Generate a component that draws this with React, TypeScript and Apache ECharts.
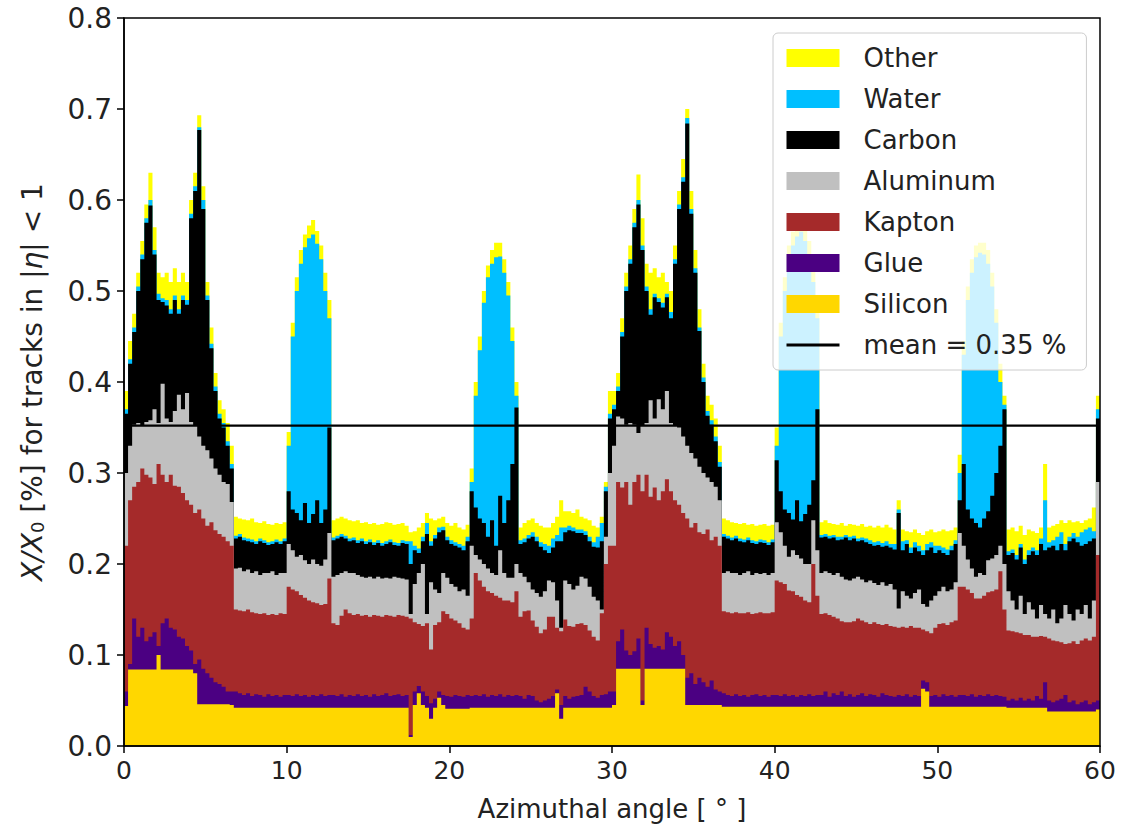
import React, { useEffect, useRef } from "react";
import * as echarts from "echarts";

// Histogram bins: 0.25 degree wide, from 0 to 60 degrees (240 bins).
// Each array holds the cumulative top of a material layer (stacked from the bottom).
const BIN_WIDTH = 0.25;
const X_MIN = 0;
const X_MAX = 60;
const X_TICK = 10;
const Y_MIN = 0;
const Y_MAX = 0.8;
const Y_TICK = 0.1;
const MEAN_VALUE = 0.352;
const MEAN_LABEL = "mean = 0.35 %";

const OTHER_TOP = [
  0.39, 0.445, 0.475, 0.52, 0.555, 0.595, 0.63, 0.57, 0.52, 0.515,
  0.52, 0.51, 0.525, 0.51, 0.52, 0.51, 0.6, 0.63, 0.693, 0.615,
  0.51, 0.46, 0.41, 0.38, 0.37, 0.355, 0.33, 0.252, 0.25, 0.249,
  0.248, 0.25, 0.246, 0.245, 0.247, 0.244, 0.243, 0.245, 0.244, 0.246,
  0.345, 0.465, 0.515, 0.545, 0.562, 0.572, 0.578, 0.566, 0.55, 0.52,
  0.49, 0.248, 0.25, 0.252, 0.25, 0.248, 0.247, 0.248, 0.245, 0.246,
  0.244, 0.245, 0.243, 0.244, 0.246, 0.245, 0.243, 0.244, 0.245, 0.242,
  0.235, 0.236, 0.24, 0.245, 0.256, 0.25, 0.248, 0.25, 0.252, 0.245,
  0.242, 0.245, 0.24, 0.238, 0.243, 0.305, 0.4, 0.45, 0.5, 0.528,
  0.545, 0.553, 0.553, 0.535, 0.51, 0.46, 0.4, 0.24, 0.245, 0.248,
  0.25, 0.245, 0.242, 0.24, 0.24, 0.245, 0.252, 0.27, 0.258, 0.258,
  0.256, 0.26, 0.252, 0.25, 0.248, 0.242, 0.24, 0.252, 0.29, 0.39,
  0.39, 0.41, 0.47, 0.52, 0.55, 0.59, 0.628, 0.58, 0.53, 0.52,
  0.525, 0.515, 0.52, 0.51, 0.5, 0.55, 0.61, 0.645, 0.7, 0.61,
  0.545, 0.48, 0.42, 0.385, 0.375, 0.36, 0.33, 0.25, 0.248, 0.246,
  0.245, 0.244, 0.245, 0.243, 0.244, 0.242, 0.243, 0.244, 0.242, 0.243,
  0.35, 0.465, 0.515, 0.55, 0.565, 0.575, 0.58, 0.57, 0.555, 0.525,
  0.485, 0.246, 0.248, 0.245, 0.244, 0.243, 0.245, 0.242, 0.244, 0.243,
  0.242, 0.244, 0.241, 0.242, 0.24, 0.242, 0.24, 0.243, 0.24, 0.238,
  0.27, 0.238, 0.236, 0.235, 0.238, 0.234, 0.232, 0.236, 0.238, 0.235,
  0.236, 0.238, 0.236, 0.237, 0.24, 0.32, 0.445, 0.505, 0.535, 0.55,
  0.553, 0.553, 0.545, 0.52, 0.48, 0.42, 0.385, 0.238, 0.24, 0.236,
  0.242, 0.232, 0.238, 0.236, 0.234, 0.24, 0.31, 0.24, 0.242, 0.244,
  0.248, 0.245, 0.248, 0.246, 0.247, 0.245, 0.248, 0.25, 0.262, 0.385,
];

const WATER_TOP = [
  0.37, 0.425, 0.46, 0.505, 0.54, 0.58, 0.6, 0.545, 0.497, 0.492,
  0.49, 0.48, 0.495, 0.48, 0.495, 0.49, 0.585, 0.615, 0.68, 0.6,
  0.495, 0.442, 0.395, 0.365, 0.355, 0.335, 0.31, 0.231, 0.233, 0.229,
  0.228, 0.227, 0.225, 0.228, 0.226, 0.224, 0.225, 0.227, 0.225, 0.228,
  0.33, 0.45, 0.5, 0.53, 0.548, 0.558, 0.562, 0.552, 0.535, 0.5,
  0.47, 0.229, 0.231, 0.233, 0.231, 0.228, 0.229, 0.226, 0.228, 0.225,
  0.227, 0.224, 0.226, 0.223, 0.225, 0.227, 0.224, 0.223, 0.226, 0.225,
  0.225, 0.22, 0.217, 0.23, 0.245, 0.225, 0.232, 0.24, 0.241, 0.23,
  0.226, 0.224, 0.222, 0.22, 0.23, 0.29, 0.385, 0.435, 0.487, 0.515,
  0.53, 0.537, 0.538, 0.52, 0.495, 0.445, 0.385, 0.226, 0.228, 0.232,
  0.235, 0.23, 0.224, 0.222, 0.22, 0.228, 0.232, 0.24, 0.24, 0.242,
  0.24, 0.238, 0.238, 0.236, 0.23, 0.224, 0.23, 0.245, 0.285, 0.365,
  0.375, 0.395, 0.455, 0.505, 0.535, 0.575, 0.6, 0.55, 0.505, 0.48,
  0.497, 0.492, 0.487, 0.497, 0.477, 0.535, 0.595, 0.625, 0.69, 0.59,
  0.525, 0.46, 0.405, 0.368, 0.358, 0.34, 0.312, 0.233, 0.231, 0.229,
  0.231, 0.228, 0.227, 0.229, 0.226, 0.225, 0.227, 0.226, 0.224, 0.227,
  0.33, 0.45, 0.5, 0.535, 0.55, 0.56, 0.565, 0.555, 0.54, 0.51,
  0.47, 0.232, 0.233, 0.231, 0.232, 0.23, 0.23, 0.232, 0.23, 0.231,
  0.228, 0.229, 0.228, 0.226, 0.224, 0.225, 0.223, 0.225, 0.222, 0.222,
  0.26, 0.225, 0.226, 0.218, 0.224, 0.22, 0.215, 0.222, 0.224, 0.22,
  0.22, 0.218, 0.216, 0.22, 0.226, 0.3, 0.43, 0.49, 0.52, 0.537,
  0.542, 0.54, 0.53, 0.505, 0.465, 0.4, 0.375, 0.214, 0.216, 0.21,
  0.222, 0.205, 0.215, 0.218, 0.215, 0.228, 0.27, 0.224, 0.226, 0.23,
  0.235, 0.222, 0.23, 0.234, 0.23, 0.235, 0.238, 0.24, 0.236, 0.37,
];

const CARBON_TOP = [
  0.365, 0.42, 0.455, 0.5, 0.535, 0.575, 0.594, 0.54, 0.49, 0.488,
  0.484, 0.475, 0.49, 0.475, 0.49, 0.485, 0.58, 0.61, 0.677, 0.59,
  0.49, 0.437, 0.39, 0.36, 0.35, 0.33, 0.305, 0.228, 0.23, 0.226,
  0.225, 0.224, 0.222, 0.225, 0.223, 0.221, 0.222, 0.224, 0.222, 0.225,
  0.28, 0.26, 0.256, 0.248, 0.267, 0.245, 0.255, 0.27, 0.245, 0.26,
  0.35, 0.226, 0.228, 0.23, 0.228, 0.225, 0.226, 0.223, 0.225, 0.222,
  0.224, 0.221, 0.223, 0.22, 0.222, 0.224, 0.221, 0.22, 0.223, 0.222,
  0.2, 0.215, 0.212, 0.225, 0.233, 0.22, 0.228, 0.235, 0.237, 0.226,
  0.222, 0.22, 0.218, 0.215, 0.225, 0.28, 0.262, 0.25, 0.245, 0.23,
  0.248, 0.22, 0.275, 0.245, 0.27, 0.31, 0.372, 0.222, 0.224, 0.228,
  0.23, 0.225, 0.219, 0.215, 0.212, 0.218, 0.225, 0.225, 0.235, 0.237,
  0.236, 0.234, 0.234, 0.232, 0.225, 0.219, 0.218, 0.225, 0.28, 0.36,
  0.37, 0.39, 0.45, 0.5, 0.53, 0.57, 0.595, 0.545, 0.5, 0.474,
  0.493, 0.488, 0.482, 0.493, 0.47, 0.53, 0.59, 0.62, 0.684, 0.585,
  0.52, 0.456, 0.4, 0.363, 0.353, 0.335, 0.307, 0.23, 0.228, 0.226,
  0.228, 0.225, 0.224, 0.226, 0.223, 0.222, 0.224, 0.223, 0.221, 0.224,
  0.314, 0.28, 0.26, 0.256, 0.249, 0.27, 0.247, 0.255, 0.265, 0.292,
  0.37, 0.229, 0.23, 0.228, 0.229, 0.226, 0.227, 0.229, 0.226, 0.228,
  0.225, 0.226, 0.224, 0.222, 0.22, 0.221, 0.219, 0.22, 0.218, 0.216,
  0.256, 0.215, 0.222, 0.212, 0.218, 0.214, 0.21, 0.215, 0.218, 0.212,
  0.215, 0.212, 0.21, 0.215, 0.222, 0.27, 0.31, 0.26, 0.25, 0.245,
  0.24, 0.25, 0.258, 0.275, 0.3, 0.33, 0.37, 0.21, 0.212, 0.205,
  0.218, 0.2, 0.21, 0.214, 0.21, 0.222, 0.215, 0.218, 0.22, 0.215,
  0.222, 0.215, 0.225, 0.228, 0.224, 0.22, 0.222, 0.225, 0.228, 0.36,
];

const ALUMINUM_TOP = [
  0.3, 0.33, 0.353, 0.355, 0.352, 0.356, 0.358, 0.37, 0.355, 0.398,
  0.36, 0.356, 0.368, 0.386, 0.37, 0.388, 0.356, 0.352, 0.34, 0.33,
  0.325, 0.316, 0.305, 0.298, 0.29, 0.288, 0.268, 0.195, 0.196, 0.192,
  0.194, 0.19, 0.192, 0.188, 0.19, 0.19, 0.192, 0.188, 0.19, 0.19,
  0.222, 0.215, 0.208, 0.21, 0.204, 0.2, 0.205, 0.2, 0.198, 0.205,
  0.234, 0.186, 0.188, 0.19, 0.192, 0.19, 0.19, 0.188, 0.186, 0.185,
  0.186, 0.184, 0.186, 0.184, 0.185, 0.184, 0.186, 0.185, 0.184, 0.183,
  0.145, 0.178, 0.19, 0.2, 0.145, 0.18, 0.172, 0.168, 0.19, 0.185,
  0.178, 0.175, 0.17, 0.172, 0.165, 0.22, 0.21, 0.205, 0.2, 0.195,
  0.19, 0.188, 0.215, 0.19, 0.185, 0.185, 0.2, 0.19, 0.186, 0.18,
  0.172, 0.168, 0.164, 0.17, 0.182, 0.18, 0.16, 0.13, 0.182, 0.178,
  0.172, 0.176, 0.186, 0.184, 0.175, 0.164, 0.16, 0.15, 0.23, 0.3,
  0.33, 0.362, 0.36, 0.353, 0.355, 0.353, 0.344, 0.352, 0.355, 0.38,
  0.36, 0.381, 0.37, 0.39, 0.355, 0.352, 0.35, 0.34, 0.33, 0.322,
  0.316, 0.307, 0.3, 0.295, 0.29, 0.285, 0.27, 0.19, 0.192, 0.19,
  0.19, 0.188, 0.19, 0.192, 0.188, 0.19, 0.189, 0.19, 0.188, 0.19,
  0.246, 0.235, 0.22, 0.208, 0.215, 0.21, 0.206, 0.2, 0.2, 0.248,
  0.215, 0.19, 0.192, 0.19, 0.188, 0.19, 0.186, 0.183, 0.182, 0.184,
  0.186, 0.183, 0.18, 0.182, 0.179, 0.177, 0.18, 0.176, 0.178, 0.172,
  0.151, 0.17, 0.165, 0.162, 0.168, 0.172, 0.156, 0.153, 0.16, 0.165,
  0.17, 0.175, 0.17, 0.172, 0.18, 0.234, 0.22, 0.205, 0.195, 0.186,
  0.19, 0.188, 0.204, 0.206, 0.21, 0.22, 0.2, 0.17, 0.16, 0.15,
  0.165, 0.145, 0.158, 0.15, 0.14, 0.155, 0.145, 0.14, 0.15, 0.135,
  0.14, 0.155, 0.145, 0.138, 0.15, 0.145, 0.155, 0.14, 0.16, 0.29,
];

const KAPTON_TOP = [
  0.22, 0.27, 0.285, 0.29, 0.305, 0.298, 0.295, 0.288, 0.31, 0.298,
  0.29, 0.298, 0.286, 0.285, 0.278, 0.27, 0.265, 0.256, 0.26, 0.25,
  0.242, 0.246, 0.237, 0.233, 0.23, 0.225, 0.22, 0.15, 0.149, 0.148,
  0.15, 0.147, 0.146, 0.145, 0.146, 0.144, 0.145, 0.144, 0.146, 0.145,
  0.175, 0.172, 0.17, 0.166, 0.163, 0.16, 0.158, 0.157, 0.155, 0.156,
  0.184, 0.135, 0.133, 0.143, 0.15, 0.146, 0.144, 0.145, 0.143, 0.144,
  0.142, 0.144, 0.143, 0.142, 0.144, 0.143, 0.142, 0.144, 0.143, 0.142,
  0.14, 0.136, 0.134, 0.132, 0.135, 0.106, 0.133, 0.136, 0.148, 0.145,
  0.14, 0.138, 0.135, 0.13, 0.128, 0.14, 0.19, 0.182, 0.175, 0.17,
  0.168, 0.165, 0.163, 0.16, 0.16, 0.158, 0.17, 0.142, 0.148, 0.149,
  0.138, 0.131, 0.124, 0.128, 0.142, 0.142, 0.13, 0.126, 0.139, 0.132,
  0.131, 0.134, 0.135, 0.133, 0.127, 0.12, 0.116, 0.146, 0.2, 0.22,
  0.22, 0.29, 0.284, 0.29, 0.265, 0.29, 0.298, 0.28, 0.298, 0.274,
  0.284, 0.27, 0.28, 0.293, 0.28, 0.27, 0.265, 0.256, 0.25, 0.24,
  0.245, 0.235, 0.233, 0.238, 0.226, 0.23, 0.22, 0.148, 0.147, 0.146,
  0.147, 0.146, 0.146, 0.147, 0.145, 0.146, 0.147, 0.146, 0.146, 0.147,
  0.182, 0.18, 0.178, 0.171, 0.17, 0.166, 0.164, 0.16, 0.158, 0.2,
  0.165, 0.145, 0.146, 0.144, 0.142, 0.14, 0.137, 0.136, 0.136, 0.137,
  0.14, 0.138, 0.136, 0.134, 0.136, 0.134, 0.133, 0.134, 0.132, 0.131,
  0.13, 0.131, 0.13, 0.132, 0.13, 0.13, 0.128, 0.126, 0.124, 0.13,
  0.134, 0.135, 0.133, 0.136, 0.138, 0.175, 0.175, 0.172, 0.168, 0.162,
  0.162, 0.165, 0.169, 0.17, 0.172, 0.192, 0.15, 0.127, 0.126, 0.125,
  0.124, 0.122, 0.122, 0.12, 0.12, 0.121, 0.12, 0.118, 0.116, 0.115,
  0.114, 0.112, 0.113, 0.115, 0.112, 0.116, 0.118, 0.116, 0.12, 0.21,
];

const GLUE_TOP = [
  0.06, 0.09, 0.14, 0.12, 0.13, 0.115, 0.12, 0.125, 0.11, 0.135,
  0.14, 0.13, 0.128, 0.12, 0.118, 0.11, 0.105, 0.09, 0.095, 0.085,
  0.08, 0.075, 0.07, 0.068, 0.065, 0.06, 0.06, 0.06, 0.058, 0.056,
  0.058, 0.055, 0.057, 0.056, 0.054, 0.057, 0.055, 0.056, 0.054, 0.056,
  0.056, 0.055, 0.057, 0.055, 0.056, 0.054, 0.056, 0.055, 0.057, 0.055,
  0.056, 0.056, 0.055, 0.057, 0.054, 0.056, 0.055, 0.057, 0.055, 0.056,
  0.054, 0.057, 0.055, 0.056, 0.058, 0.055, 0.056, 0.057, 0.055, 0.056,
  0.012, 0.06, 0.066, 0.06, 0.055, 0.047, 0.052, 0.06, 0.056, 0.055,
  0.054, 0.056, 0.055, 0.054, 0.056, 0.055, 0.056, 0.055, 0.057, 0.054,
  0.056, 0.055, 0.057, 0.054, 0.056, 0.055, 0.056, 0.055, 0.052, 0.056,
  0.055, 0.05, 0.048, 0.05, 0.052, 0.055, 0.062, 0.045, 0.055, 0.052,
  0.054, 0.055, 0.056, 0.065, 0.06, 0.055, 0.053, 0.056, 0.057, 0.06,
  0.06, 0.115, 0.128, 0.105, 0.1, 0.104, 0.118, 0.05, 0.13, 0.112,
  0.108, 0.11, 0.106, 0.125, 0.12, 0.11, 0.115, 0.1, 0.075, 0.08,
  0.068, 0.075, 0.07, 0.065, 0.072, 0.062, 0.06, 0.058, 0.056, 0.055,
  0.057, 0.055, 0.056, 0.054, 0.056, 0.057, 0.055, 0.056, 0.054, 0.056,
  0.056, 0.055, 0.057, 0.055, 0.056, 0.054, 0.056, 0.055, 0.057, 0.055,
  0.056, 0.056, 0.06, 0.054, 0.058, 0.056, 0.06, 0.055, 0.057, 0.054,
  0.056, 0.058, 0.055, 0.057, 0.056, 0.054, 0.058, 0.056, 0.055, 0.054,
  0.056, 0.055, 0.057, 0.054, 0.056, 0.055, 0.072, 0.07, 0.055, 0.056,
  0.054, 0.057, 0.055, 0.056, 0.054, 0.056, 0.056, 0.055, 0.057, 0.054,
  0.056, 0.055, 0.057, 0.055, 0.056, 0.055, 0.054, 0.05, 0.052, 0.05,
  0.053, 0.05, 0.052, 0.05, 0.055, 0.052, 0.07, 0.05, 0.048, 0.05,
  0.052, 0.056, 0.048, 0.05, 0.046, 0.048, 0.05, 0.046, 0.048, 0.05,
];

const SILICON_TOP = [
  0.044, 0.084, 0.084, 0.084, 0.084, 0.084, 0.084, 0.084, 0.1, 0.084,
  0.084, 0.084, 0.084, 0.084, 0.084, 0.084, 0.084, 0.08, 0.046, 0.046,
  0.046, 0.046, 0.046, 0.046, 0.046, 0.046, 0.045, 0.042, 0.042, 0.042,
  0.042, 0.042, 0.042, 0.042, 0.042, 0.042, 0.042, 0.042, 0.042, 0.042,
  0.042, 0.042, 0.042, 0.042, 0.042, 0.042, 0.042, 0.042, 0.042, 0.042,
  0.042, 0.042, 0.042, 0.042, 0.042, 0.042, 0.042, 0.042, 0.042, 0.042,
  0.042, 0.042, 0.042, 0.042, 0.042, 0.042, 0.042, 0.042, 0.042, 0.042,
  0.01, 0.045, 0.058, 0.045, 0.042, 0.03, 0.042, 0.053, 0.045, 0.041,
  0.041, 0.041, 0.041, 0.041, 0.041, 0.042, 0.042, 0.042, 0.042, 0.042,
  0.042, 0.042, 0.042, 0.042, 0.042, 0.042, 0.042, 0.042, 0.042, 0.042,
  0.042, 0.042, 0.042, 0.042, 0.042, 0.042, 0.058, 0.03, 0.042, 0.042,
  0.042, 0.042, 0.042, 0.042, 0.042, 0.042, 0.042, 0.042, 0.042, 0.042,
  0.045, 0.085, 0.085, 0.085, 0.085, 0.085, 0.085, 0.045, 0.085, 0.085,
  0.085, 0.085, 0.085, 0.085, 0.085, 0.085, 0.085, 0.085, 0.045, 0.045,
  0.045, 0.045, 0.045, 0.045, 0.045, 0.045, 0.045, 0.043, 0.043, 0.043,
  0.043, 0.043, 0.043, 0.043, 0.043, 0.043, 0.043, 0.043, 0.043, 0.043,
  0.043, 0.043, 0.043, 0.043, 0.043, 0.043, 0.043, 0.043, 0.043, 0.043,
  0.043, 0.043, 0.043, 0.043, 0.043, 0.043, 0.043, 0.043, 0.043, 0.043,
  0.043, 0.043, 0.043, 0.043, 0.043, 0.043, 0.043, 0.043, 0.043, 0.043,
  0.043, 0.043, 0.043, 0.043, 0.043, 0.043, 0.063, 0.06, 0.043, 0.043,
  0.043, 0.043, 0.043, 0.043, 0.043, 0.043, 0.043, 0.043, 0.043, 0.043,
  0.043, 0.043, 0.043, 0.043, 0.043, 0.043, 0.043, 0.042, 0.042, 0.042,
  0.042, 0.042, 0.042, 0.042, 0.042, 0.042, 0.042, 0.038, 0.038, 0.038,
  0.038, 0.038, 0.038, 0.038, 0.038, 0.038, 0.038, 0.038, 0.038, 0.04,
];

const LAYER_NAMES = ["Other", "Water", "Carbon", "Aluminum", "Kapton", "Glue", "Silicon"];
const LAYER_COLORS = ["#FFFF00", "#00BFFF", "#000000", "#C0C0C0", "#A52A2A", "#4B0082", "#FFD700"];
const LAYER_TOPS = [OTHER_TOP, WATER_TOP, CARBON_TOP, ALUMINUM_TOP, KAPTON_TOP, GLUE_TOP, SILICON_TOP];

const FONT = "DejaVu Sans";
const TEXT_COLOR = "#222222";

function toSteps(tops: number[]): number[][] {
  const pts = tops.map((v, i) => [X_MIN + i * BIN_WIDTH, v]);
  pts.push([X_MIN + tops.length * BIN_WIDTH, tops[tops.length - 1]]);
  return pts;
}

export default function App() {
  const ref = useRef<HTMLDivElement>(null);

  useEffect(() => {
    if (!ref.current) return;
    const chart = echarts.init(ref.current, null, { renderer: "svg" });

    const layerSeries = LAYER_NAMES.map((name, k) => ({
      type: "line",
      name,
      step: "end",
      data: toSteps(LAYER_TOPS[k]),
      symbol: "none",
      showSymbol: false,
      color: LAYER_COLORS[k],
      itemStyle: { color: LAYER_COLORS[k] },
      lineStyle: { width: 0, color: LAYER_COLORS[k] },
      areaStyle: { color: LAYER_COLORS[k], opacity: 1 },
      silent: true,
      z: 2,
      emphasis: { disabled: true },
    }));

    const meanSeries = {
      type: "line",
      name: MEAN_LABEL,
      data: [
        [X_MIN, MEAN_VALUE],
        [X_MAX, MEAN_VALUE],
      ],
      symbol: "none",
      showSymbol: false,
      color: "#000000",
      itemStyle: { color: "#000000" },
      lineStyle: { width: 2.2, color: "#000000" },
      silent: true,
      z: 5,
      emphasis: { disabled: true },
    };

    chart.setOption({
      animation: false,
      backgroundColor: "#ffffff",
      grid: {
        left: 124,
        right: 44,
        top: 18,
        bottom: 88,
        show: true,
        borderColor: "#000000",
        borderWidth: 1.5,
        backgroundColor: "transparent",
        z: 10,
      },
      legend: {
        orient: "vertical",
        left: 773,
        top: 33,
        data: [
          ...LAYER_NAMES.map((name) => ({ name, icon: "rect" })),
          { name: MEAN_LABEL, itemStyle: { opacity: 0 }, lineStyle: { width: 3 } },
        ],
        itemWidth: 53,
        itemHeight: 18,
        itemGap: 15,
        padding: [12, 20, 12, 12],
        backgroundColor: "rgba(255,255,255,0.8)",
        borderColor: "#cccccc",
        borderWidth: 1,
        borderRadius: 5,
        selectedMode: false,
        textStyle: {
          fontFamily: FONT,
          fontSize: 26,
          lineHeight: 26,
          color: TEXT_COLOR,
          padding: [0, 0, 0, 19],
        },
      },
      xAxis: {
        type: "value",
        min: X_MIN,
        max: X_MAX,
        interval: X_TICK,
        z: 10,
        axisLine: { show: true, lineStyle: { color: "#000", width: 1.5 } },
        axisTick: { show: true, length: 7, lineStyle: { color: "#000", width: 1.5 } },
        axisLabel: { fontFamily: FONT, fontSize: 25, color: TEXT_COLOR, margin: 12 },
        splitLine: { show: false },
        name: "Azimuthal angle [ ° ]",
        nameLocation: "middle",
        nameGap: 50,
        nameTextStyle: { fontFamily: FONT, fontSize: 26, color: TEXT_COLOR },
      },
      yAxis: {
        type: "value",
        min: Y_MIN,
        max: Y_MAX,
        interval: Y_TICK,
        z: 10,
        axisLine: { show: true, lineStyle: { color: "#000", width: 1.5 } },
        axisTick: { show: true, length: 7, lineStyle: { color: "#000", width: 1.5 } },
        axisLabel: {
          fontFamily: FONT,
          fontSize: 28,
          color: TEXT_COLOR,
          margin: 12,
          formatter: (v: number) => v.toFixed(1),
        },
        splitLine: { show: false },
        name: "{it|X/X}{sub|0}{n| [%] for tracks in |}{it|η}{n|| < 1}",
        nameLocation: "middle",
        nameGap: 78,
        nameRotate: 90,
        nameTextStyle: {
          fontFamily: FONT,
          fontSize: 28,
          color: TEXT_COLOR,
          rich: {
            it: { fontFamily: FONT, fontSize: 28, fontStyle: "italic", color: TEXT_COLOR },
            sub: { fontFamily: FONT, fontSize: 18, color: TEXT_COLOR, verticalAlign: "bottom" },
            n: { fontFamily: FONT, fontSize: 28, color: TEXT_COLOR },
          },
        },
      },
      series: [...layerSeries, meanSeries],
    });

    return () => {
      chart.dispose();
    };
  }, []);

  return (
    <div
      ref={ref}
      style={{ position: "fixed", left: 0, top: 0, width: 1144, height: 834, background: "#fff" }}
    />
  );
}
